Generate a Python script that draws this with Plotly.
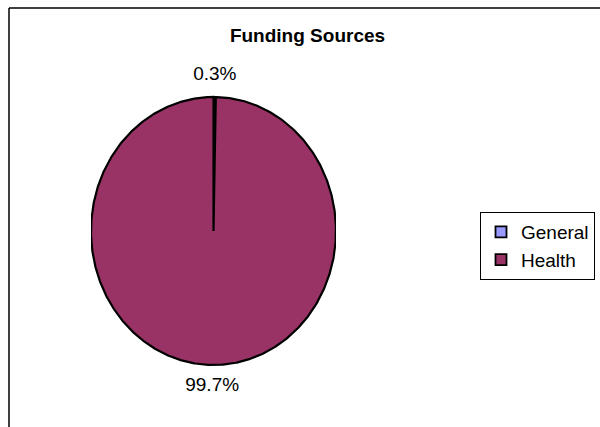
import numpy as np
import plotly.graph_objects as go

# Funding sources and their amounts (percent of total)
sources = ["General", "Health"]
amounts = [0.3, 99.7]
colors = ["#9999FF", "#993366"]

W, H = 600, 427
FONT = "Liberation Sans, Arial, sans-serif"

total = float(sum(amounts))
shares = [a / total for a in amounts]

fig = go.Figure()

# Slices drawn clockwise from 12 o'clock on an elliptical pie
start = 0.0
mid_angles = []
for name, share, col in zip(sources, shares, colors):
    end = start + share * 2 * np.pi
    th = np.linspace(start, end, max(3, int(share * 720) + 2))
    xs = np.concatenate([[0.0], np.sin(th), [0.0]])
    ys = np.concatenate([[0.0], np.cos(th), [0.0]])
    fig.add_trace(go.Scatter(
        x=xs, y=ys, mode="lines", fill="toself", fillcolor=col,
        line=dict(color="black", width=2.2), showlegend=False,
        hoverinfo="skip", name=name,
    ))
    mid_angles.append((start + end) / 2)
    start = end

# Percentage labels just outside each slice
r_lab = 1.16
fig.add_trace(go.Scatter(
    x=[r_lab * np.sin(a) for a in mid_angles],
    y=[r_lab * np.cos(a) for a in mid_angles],
    mode="text",
    text=[f"{s * 100:.1f}%" for s in shares],
    textfont=dict(family=FONT, size=19, color="black"),
    textposition="middle center",
    showlegend=False, hoverinfo="skip", cliponaxis=False,
))

# Legend entries
for name, col in zip(sources, colors):
    fig.add_trace(go.Scatter(
        x=[None], y=[None], mode="markers", name=name,
        marker=dict(symbol="square", size=11, color=col,
                    line=dict(color="black", width=1.8)),
    ))

# Pie geometry in pixels: centre (213.5, 231), radii 122.5 x 134
cx, cy, rx, ry = 213.5, 231.0, 122.5, 134.0
ypad = 1.3  # y-axis half-range, leaves room for the outside labels

fig.update_layout(
    width=W, height=H, autosize=False,
    margin=dict(l=0, r=0, t=0, b=0),
    paper_bgcolor="white", plot_bgcolor="white",
    title=dict(text="<b>Funding Sources</b>", x=307.5 / W, xanchor="center",
               y=1 - 35 / H, yanchor="middle",
               font=dict(family=FONT, size=19, color="black")),
    xaxis=dict(range=[-1, 1], domain=[(cx - rx) / W, (cx + rx) / W],
               visible=False, fixedrange=True),
    yaxis=dict(range=[-ypad, ypad],
               domain=[1 - (cy + ypad * ry) / H, 1 - (cy - ypad * ry) / H],
               visible=False, fixedrange=True),
    legend=dict(x=480 / W, y=1 - 212 / H, xanchor="left", yanchor="top",
                bgcolor="white", bordercolor="black", borderwidth=1,
                font=dict(family=FONT, size=19, color="black"),
                itemwidth=30),
    shapes=[
        dict(type="line", xref="paper", yref="paper",
             x0=9 / W, x1=1.0, y0=1 - 8 / H, y1=1 - 8 / H,
             line=dict(color="black", width=1.5)),
        dict(type="line", xref="paper", yref="paper",
             x0=9 / W, x1=9 / W, y0=0.0, y1=1 - 8 / H,
             line=dict(color="black", width=1.5)),
    ],
)

fig.write_html("out.html")
